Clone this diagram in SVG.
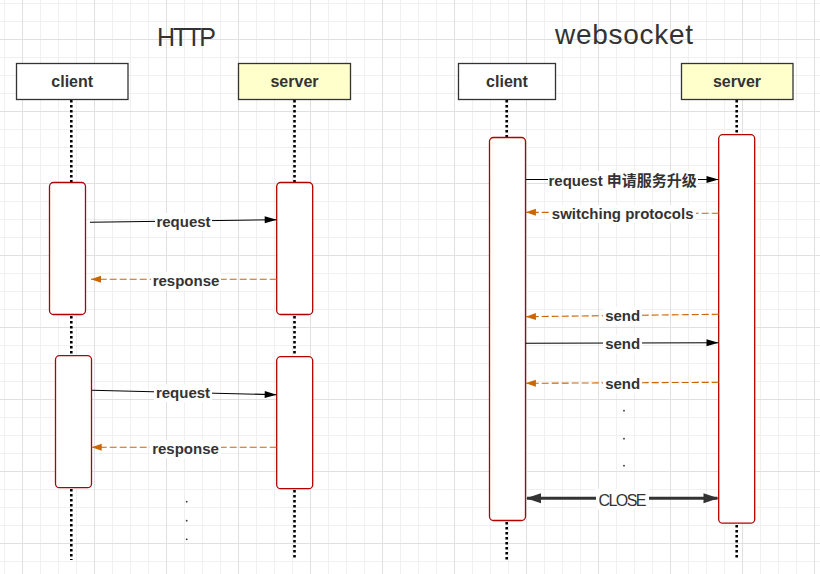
<svg xmlns="http://www.w3.org/2000/svg" width="820" height="574" viewBox="0 0 820 574">
<defs>
<pattern id="grid" patternUnits="userSpaceOnUse" x="22" y="39" width="72" height="72">
<path d="M18.5,0V72M36.5,0V72M54.5,0V72M0,18.5H72M0,36.5H72M0,54.5H72" stroke="#f0f0f0" stroke-width="1" fill="none"/>
<path d="M0.5,0V72M0,0.5H72" stroke="#e0e0e0" stroke-width="1" fill="none"/>
</pattern>
<marker id="ab" markerUnits="userSpaceOnUse" markerWidth="13" markerHeight="8" refX="12" refY="3.5" orient="auto" overflow="visible">
<path d="M0,0L12,3.5L0,7z" fill="#000"/>
</marker>
<marker id="ao" markerUnits="userSpaceOnUse" markerWidth="11" markerHeight="8" refX="10" refY="3.5" orient="auto" overflow="visible">
<path d="M0,0L10,3.5L0,7z" fill="#cc6600"/>
</marker>
<marker id="ac" markerUnits="userSpaceOnUse" markerWidth="16" markerHeight="11" refX="14" refY="5" orient="auto-start-reverse" overflow="visible">
<path d="M0,0L15,5L0,10z" fill="#333"/>
</marker>
</defs>
<style>
.title{font-family:"Liberation Sans",Arial,sans-serif;fill:#333;text-anchor:middle}
.nl{font-family:"Liberation Sans",Arial,sans-serif;font-weight:bold;font-size:16px;fill:#333;text-anchor:middle}
.lbl{font-family:"Liberation Sans","Noto Sans CJK SC",sans-serif;font-weight:bold;font-size:15px;fill:#333;text-anchor:middle}
.cl{font-family:"Liberation Sans",Arial,sans-serif;font-size:16px;fill:#333;text-anchor:middle}
.box{fill:#fff;stroke:#333;stroke-width:1.3}
.srv{fill:#ffffcc;stroke:#333;stroke-width:1.3}
.act{fill:#fff;stroke:#b20000;stroke-width:1.3}
.life{stroke:#000;stroke-width:2.6;stroke-dasharray:2.6 2.4;fill:none}
.sol{stroke:#000;stroke-width:1.1;fill:none;marker-end:url(#ab)}
.dash{stroke:#cc6600;stroke-width:1.1;stroke-dasharray:7 3;fill:none;marker-end:url(#ao)}
.close{stroke:#333;stroke-width:3;fill:none;marker-start:url(#ac);marker-end:url(#ac)}
.bg{fill:#fff}
.dot{fill:#333}
</style>
<rect width="820" height="574" fill="#fff"/>
<rect width="820" height="574" fill="url(#grid)"/>

<text class="title" x="186.5" y="46" font-size="25" textLength="59">HTTP</text>
<text class="title" x="624" y="44" font-size="28" textLength="138">websocket</text>

<g id="lifelines">
<path class="life" d="M71.3,100V182M71.3,316V355M71.3,489V560"/>
<path class="life" d="M294.5,100V182M294.5,316V356M294.5,490V560"/>
<path class="life" d="M506.7,100V137M506.7,522V560"/>
<path class="life" d="M736.7,100V134M736.7,525V560"/>
</g>

<g id="http-client"><rect class="box" x="16.5" y="63.5" width="111.5" height="36"/><text class="nl" x="72.2" y="87">client</text></g>
<g id="http-server"><rect class="srv" x="238.5" y="63.5" width="112" height="36"/><text class="nl" x="294.5" y="87">server</text></g>
<g id="ws-client"><rect class="box" x="458.5" y="63.5" width="97" height="36"/><text class="nl" x="507" y="87">client</text></g>
<g id="ws-server"><rect class="srv" x="681.5" y="63.5" width="111.5" height="36"/><text class="nl" x="737" y="87">server</text></g>

<g id="http-act-c1"><rect class="act" x="49.5" y="182.5" width="36" height="132" rx="4"/></g>
<g id="http-act-s1"><rect class="act" x="276.7" y="182.5" width="36" height="132" rx="4"/></g>
<g id="http-act-c2"><rect class="act" x="55.5" y="355.7" width="36" height="132" rx="4"/></g>
<g id="http-act-s2"><rect class="act" x="276.7" y="356.7" width="36" height="132" rx="4"/></g>
<g id="ws-act-c"><rect class="act" x="489.5" y="137.5" width="36" height="383" rx="4"/></g>
<g id="ws-act-s"><rect class="act" x="718.7" y="134.7" width="36" height="388.5" rx="4"/></g>

<g id="connectors">
<path class="sol" d="M90,222.3L276.7,219.7"/>
<path class="dash" d="M276.7,279.3L91,279.3"/>
<path class="sol" d="M91.7,390.3L276.7,394.7"/>
<path class="dash" d="M276.7,447.3L91.7,447.3"/>
<path class="sol" d="M525.7,179.5L718.5,179.5"/>
<path class="dash" d="M718.7,213.3L525.9,212.3"/>
<path class="dash" d="M718.7,314.3L525.9,316.7"/>
<path class="sol" d="M525.7,343.3L718.5,342.7"/>
<path class="dash" d="M718.7,382.3L525.9,383.3"/>
<path class="close" d="M527,498.3L717.5,498.3"/>
</g>

<g id="labels">
<rect class="bg" x="155" y="213" width="57" height="18"/><text class="lbl" x="183.5" y="227">request</text>
<rect class="bg" x="151" y="272" width="70" height="18"/><text class="lbl" x="186" y="286">response</text>
<rect class="bg" x="154" y="384" width="58" height="18"/><text class="lbl" x="183" y="398">request</text>
<rect class="bg" x="150" y="440" width="71" height="18"/><text class="lbl" x="185.5" y="454">response</text>
<rect class="bg" x="548" y="171" width="150" height="18"/><text class="lbl" x="622.7" y="185.5">request 申请服务升级</text>
<rect class="bg" x="549" y="205" width="147" height="18"/><text class="lbl" x="622.7" y="219.3">switching protocols</text>
<rect class="bg" x="603" y="307" width="39" height="18"/><text class="lbl" x="622.7" y="321">send</text>
<rect class="bg" x="603" y="335" width="39" height="18"/><text class="lbl" x="622.7" y="349">send</text>
<rect class="bg" x="603" y="375" width="39" height="18"/><text class="lbl" x="622.7" y="389">send</text>
<rect class="bg" x="596" y="489" width="53" height="21"/><text class="cl" x="622.5" y="506" textLength="48">CLOSE</text>
</g>

<g id="ellipsis">
<circle class="dot" cx="186.7" cy="501.7" r="0.9"/>
<circle class="dot" cx="186.7" cy="520.7" r="0.9"/>
<circle class="dot" cx="186.7" cy="539.3" r="0.9"/>
<circle class="dot" cx="624" cy="410.7" r="0.9"/>
<circle class="dot" cx="624" cy="438.7" r="0.9"/>
<circle class="dot" cx="624" cy="465.7" r="0.9"/>
</g>
</svg>
